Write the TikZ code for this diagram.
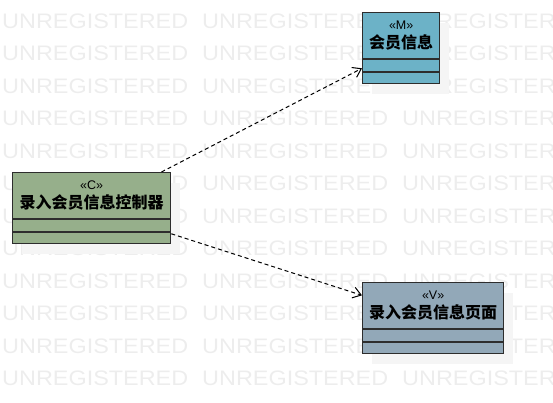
\documentclass[tikz,border=0pt]{standalone}
\usepackage{fontspec}
\setmainfont{Liberation Sans}
\newfontfamily\cjkfont{Noto Sans CJK SC}
\usetikzlibrary{arrows.meta,calc,shadows}

\definecolor{modelblue}{RGB}{108,178,199}
\definecolor{ctrlgreen}{RGB}{150,175,139}
\definecolor{viewblue}{RGB}{146,168,184}
\definecolor{edgegray}{RGB}{45,45,45}

\begin{document}
\begin{tikzpicture}[
        x=1pt, y=-1pt,
        watermark/.style={text=black!7, font=\fontsize{21}{21}\selectfont, xscale=1.115, anchor=base west, inner sep=0pt},
        classbox/.style={draw=edgegray, line width=1.3pt, anchor=north west, minimum height=71pt, inner sep=0pt,
            drop shadow={fill=black!4, opacity=1, shadow xshift=9pt, shadow yshift=-10pt}},
        stereo/.style={font=\fontsize{12.5}{12.5}\selectfont, inner sep=0pt},
        title/.style={font=\cjkfont\bfseries\fontsize{16}{16}\selectfont, inner sep=0pt},
        divider/.style={draw=edgegray, line width=1.6pt},
        dep/.style={draw=black, line width=1pt, dash pattern=on 4pt off 3pt, -{Straight Barb[length=8pt,width=11pt]}},
    ]
    \useasboundingbox (0,0) rectangle (553,403);
    \clip (0,0) rectangle (553,403);
    % background text
    \foreach \row in {0,...,11}{
        \foreach \col in {0,1,2}{
            \node[watermark] (wm-\row-\col) at ({2+200*\col}, {28.3+32.5*\row}) {UNREGISTERED};
        }
    }
    % classes
    \node[classbox, fill=ctrlgreen, minimum width=158pt] (c) at (12,172) {};
    \node[classbox, fill=modelblue, minimum width=77pt] (m) at (362,12) {};
    \node[classbox, fill=viewblue, minimum width=141pt] (v) at (362,282) {};
    \foreach \b in {c,m,v}{
        \draw[divider] ([yshift=-47pt]\b.north west) -- ([yshift=-47pt]\b.north east);
        \draw[divider] ([yshift=-60pt]\b.north west) -- ([yshift=-60pt]\b.north east);
    }
    \node[stereo] (c-st) at ($(c.north)+(0,13)$) {«C»};
    \node[title] (c-name) at ($(c.north)+(0,30)$) {录入会员信息控制器};
    \node[stereo] (m-st) at ($(m.north)+(0,13)$) {«M»};
    \node[title] (m-name) at ($(m.north)+(0,30)$) {会员信息};
    \node[stereo] (v-st) at ($(v.north)+(0,13)$) {«V»};
    \node[title] (v-name) at ($(v.north)+(0,30)$) {录入会员信息页面};
    % dependencies
    \draw[dep] (c) -- (m);
    \draw[dep] (c) -- (v);
\end{tikzpicture}
\end{document}
